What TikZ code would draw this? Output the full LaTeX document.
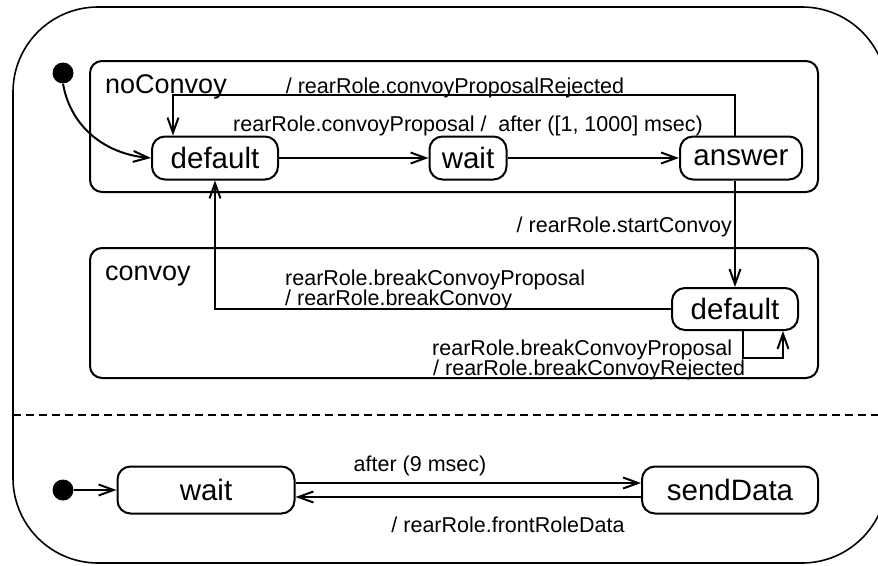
\documentclass[tikz,border=0pt]{standalone}
\usepackage{fontspec}
\setmainfont{Liberation Sans}
\usetikzlibrary{arrows.meta}

\newcommand\stfont{\fontsize{29.5}{32}\selectfont}
\newcommand\rgfont{\fontsize{27}{30}\selectfont}
\newcommand\lbfont{\fontsize{21.5}{24}\selectfont}

\tikzset{
  stbox/.style={draw, line width=2pt, rounded corners=13pt, minimum height=43pt, inner sep=0pt, font=\stfont},
  region/.style={draw, line width=2pt, rounded corners=12pt},
  lbl/.style={font=\lbfont, inner sep=0pt},
  rname/.style={font=\rgfont, inner sep=0pt, anchor=base west},
  initdot/.style={circle, fill=black, minimum size=21pt, inner sep=0pt},
  tr/.style={line width=2pt, -{Straight Barb[length=15pt,width=11pt]}},
}

\begin{document}
\begin{tikzpicture}[x=1pt, y=-1pt]
\useasboundingbox (0,0) rectangle (878,565);

% outer state frame and the dashed divider between the two regions
\draw[line width=1.6pt, rounded corners=85pt] (13,7) rectangle (887,563);
\draw[line width=1.5pt, dash pattern=on 8pt off 5pt] (13,415) -- (878,415);

% composite states
\draw[region] (90,61) rectangle (818,192);
\draw[region] (90,248) rectangle (818,378);
\node[rname] (nameNoConvoy) at (105,93) {noConvoy};
\node[rname] (nameConvoy) at (105,280) {convoy};

% states of noConvoy
\node[initdot] (init1) at (63,73) {};
\node[stbox, minimum width=126pt] (ncDef) at (215,158) {default};
\node[stbox, minimum width=77pt] (ncWait) at (468,158) {wait};
\node[stbox, minimum width=122pt] (ncAns) at (741,158) {answer};

% state of convoy
\node[stbox, minimum width=126pt, minimum height=42pt] (cvDef) at (735,309) {default};

% lower region
\node[initdot] (init2) at (63,490) {};
\node[stbox, minimum width=177pt, minimum height=47pt] (bWait) at (206,490) {wait};
\node[stbox, minimum width=176pt, minimum height=47pt] (bSend) at (730,490) {sendData};

% transitions in noConvoy
\draw[tr] (init1.south) to[out=-80, in=175] (ncDef.west);
\draw[tr] (ncDef) -- (ncWait);
\draw[tr] (ncWait) -- (ncAns);
\draw[tr] ([xshift=-6pt]ncAns.north) -- ++(0,-41) -| ([xshift=-42pt]ncDef.north);
\node[lbl, anchor=base] (lRej) at (455,93) {/ rearRole.convoyProposalRejected};
\node[lbl, anchor=base] (lProp) at (468,131) {rearRole.convoyProposal /\ \ after ([1, 1000] msec)};

% noConvoy -> convoy and back
\draw[tr] (cvDef.north |- ncAns.south) -- (cvDef.north);
\node[lbl, anchor=base east] (lStart) at (732,232) {/ rearRole.startConvoy};
\draw[tr] (cvDef.west) -| (ncDef.south);
\node[lbl, anchor=base west] (lBreakA) at (285,285) {rearRole.breakConvoyProposal};
\node[lbl, anchor=base west] (lBreakB) at (285,305) {/ rearRole.breakConvoy};

% self transition of convoy default
\draw[tr] ([xshift=8pt]cvDef.south) -- ++(0,27) -| ([xshift=48pt]cvDef.south);
\node[lbl, anchor=base west] (lSelfA) at (432,355) {rearRole.breakConvoyProposal};
\node[lbl, anchor=base west] (lSelfB) at (433,375) {/ rearRole.breakConvoyRejected};

% lower region transitions
\draw[tr] (init2) -- (bWait.west);
\draw[tr] ([yshift=7pt]bWait.east) -- ([yshift=7pt]bSend.west);
\draw[tr] ([yshift=-7pt]bSend.west) -- ([yshift=-7pt]bWait.east);
\node[lbl, anchor=base] (lAfter) at (420,471) {after (9 msec)};
\node[lbl, anchor=base] (lFront) at (508,532) {/ rearRole.frontRoleData};
\end{tikzpicture}
\end{document}
